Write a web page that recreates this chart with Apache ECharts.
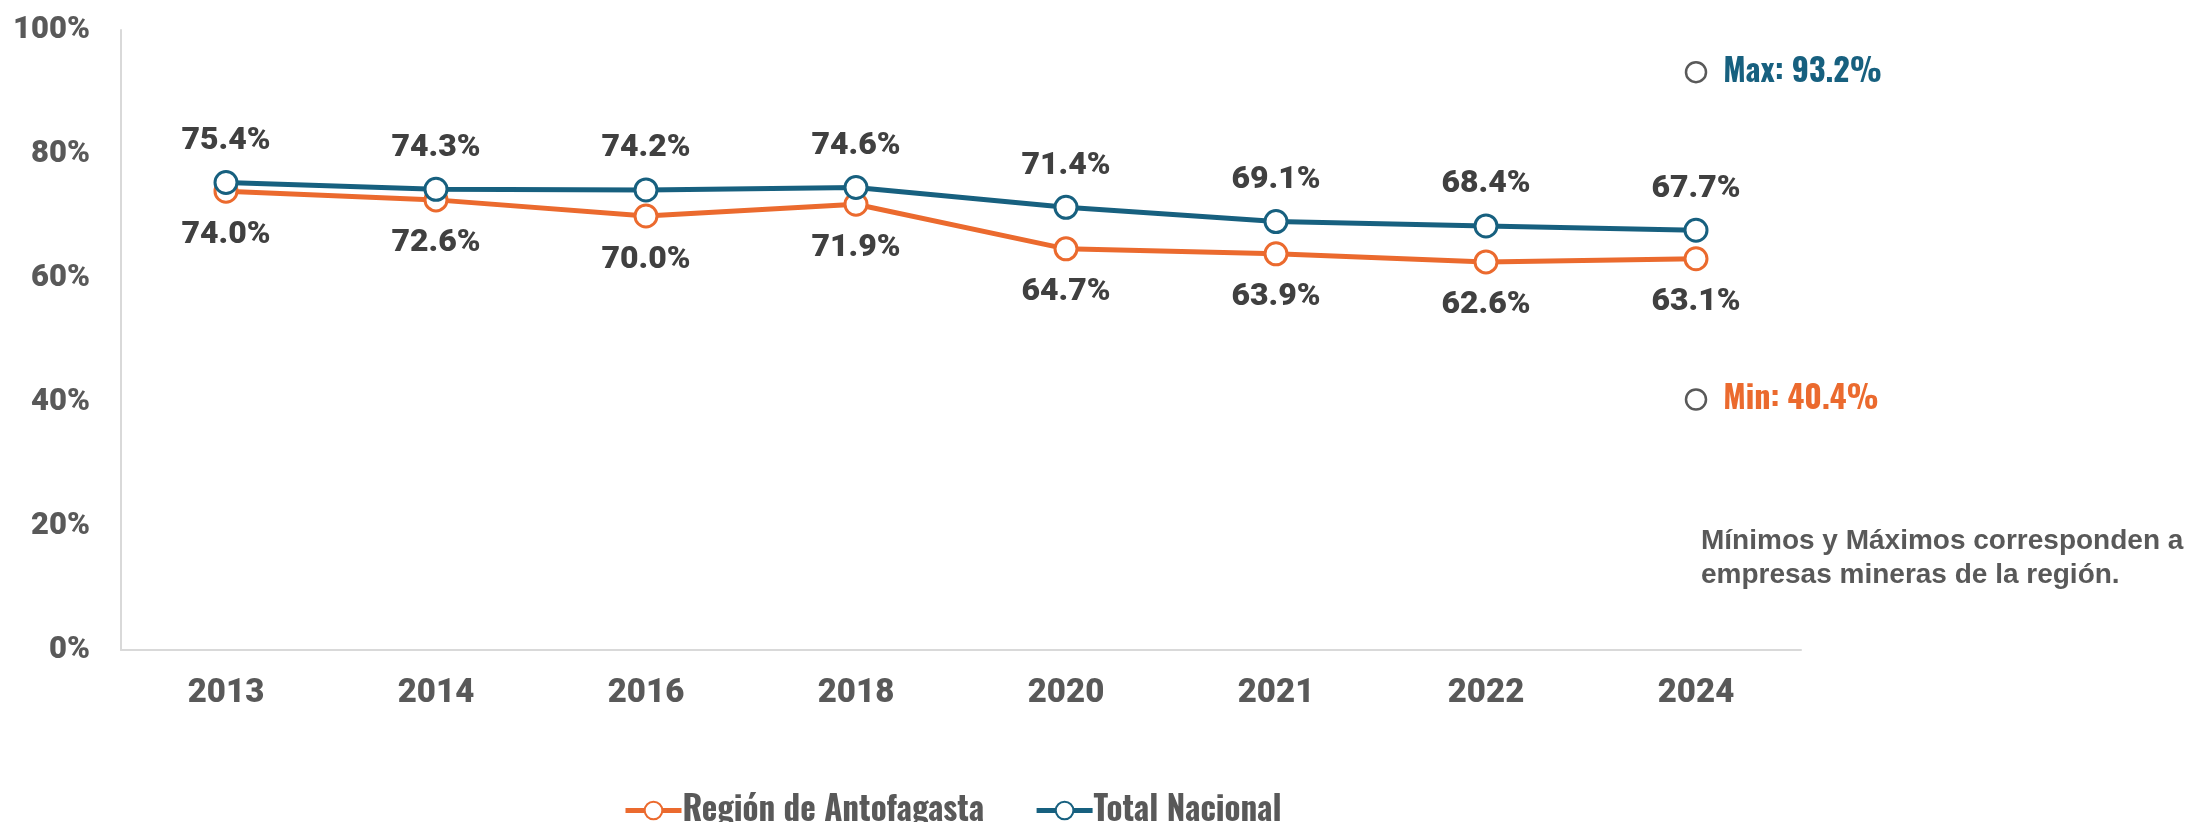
<!DOCTYPE html>
<html>
<head>
<meta charset="utf-8">
<script src="https://cdn.jsdelivr.net/npm/echarts@6/dist/echarts.min.js"></script>
<style>
html,body{margin:0;padding:0;background:#fff;}
#c{width:2198px;height:822px;}
</style>
</head>
<body>
<div id="c"></div>
<script>
const categories = ['2013','2014','2016','2018','2020','2021','2022','2024'];
const regionValues = [74.0, 72.6, 70.0, 71.9, 64.7, 63.9, 62.6, 63.1];
const nacionalValues = [75.4, 74.3, 74.2, 74.6, 71.4, 69.1, 68.4, 67.7];
const maxValue = 93.2;
const minValue = 40.4;
const yTicks = [0, 20, 40, 60, 80, 100];
const noteLines = ['Mínimos y Máximos corresponden a', 'empresas mineras de la región.'];

const HEAVY = 'Roboto, "DejaVu Sans Condensed", sans-serif';
const COND = 'Oswald, "Roboto Condensed", "DejaVu Sans Condensed", sans-serif';
const ORANGE = '#EB6A2E';
const BLUE = '#17607F';
const GRAY = '#595959';
const DARK = '#404040';

const chart = echarts.init(document.getElementById('c'));
chart.setOption({
  backgroundColor: '#ffffff',
  animation: false,
  grid: {left: 121, right: 397, top: 30, bottom: 172, containLabel: false},
  xAxis: {
    type: 'category',
    data: categories,
    boundaryGap: true,
    axisLine: {show: true, lineStyle: {color: '#d9d9d9', width: 2}},
    axisTick: {show: false},
    axisLabel: {color: GRAY, fontFamily: HEAVY, fontWeight: 900, fontSize: 33, margin: 27}
  },
  yAxis: {
    type: 'value',
    min: yTicks[0], max: yTicks[yTicks.length - 1], interval: yTicks[1] - yTicks[0],
    axisLine: {show: true, lineStyle: {color: '#d9d9d9', width: 2}},
    axisTick: {show: false},
    splitLine: {show: false},
    axisLabel: {color: GRAY, fontFamily: HEAVY, fontWeight: 900, fontSize: 31, margin: 31,
      formatter: v => v + '%'}
  },
  legend: {
    left: 618, top: 789,
    itemWidth: 56, itemHeight: 22, itemGap: 50,
    data: ['Región de Antofagasta', 'Total Nacional'],
    lineStyle: {width: 5},
    textStyle: {color: GRAY, fontFamily: COND, fontWeight: 'bold', fontSize: 33, padding: [0,0,0,-4]}
  },
  series: [
    {
      name: 'Región de Antofagasta',
      type: 'line',
      data: regionValues,
      symbol: 'circle', symbolSize: 22,
      lineStyle: {color: ORANGE, width: 5},
      itemStyle: {color: '#ffffff', borderColor: ORANGE, borderWidth: 3},
      label: {show: true, position: 'bottom', distance: 15, color: DARK,
        fontFamily: HEAVY, fontWeight: 900, fontSize: 32,
        formatter: p => p.value.toFixed(1) + '%'},
      z: 2
    },
    {
      name: 'Total Nacional',
      type: 'line',
      data: nacionalValues,
      symbol: 'circle', symbolSize: 22,
      lineStyle: {color: BLUE, width: 5},
      itemStyle: {color: '#ffffff', borderColor: BLUE, borderWidth: 3},
      label: {show: true, position: 'top', distance: 13, color: DARK,
        fontFamily: HEAVY, fontWeight: 900, fontSize: 32,
        formatter: p => p.value.toFixed(1) + '%'},
      z: 3
    },
    {
      name: 'extremos',
      type: 'scatter',
      data: [
        {value: [categories.length - 1, maxValue], label: {color: BLUE, formatter: 'Max: ' + maxValue.toFixed(1) + '%'}},
        {value: [categories.length - 1, minValue], label: {color: ORANGE, formatter: 'Min: ' + minValue.toFixed(1) + '%'}}
      ],
      symbol: 'circle', symbolSize: 20,
      itemStyle: {color: '#ffffff', borderColor: GRAY, borderWidth: 2.5, opacity: 1},
      label: {show: true, position: 'right', distance: 16,
        fontFamily: COND, fontWeight: 'bold', fontSize: 32},
      z: 4
    }
  ],
  graphic: [{
    type: 'text', left: 1701, top: 524,
    style: {
      text: noteLines.join('\n'),
      fill: GRAY, font: 'bold 28px "Liberation Sans", Arial, sans-serif', lineHeight: 34
    }
  }]
});
</script>
</body>
</html>
